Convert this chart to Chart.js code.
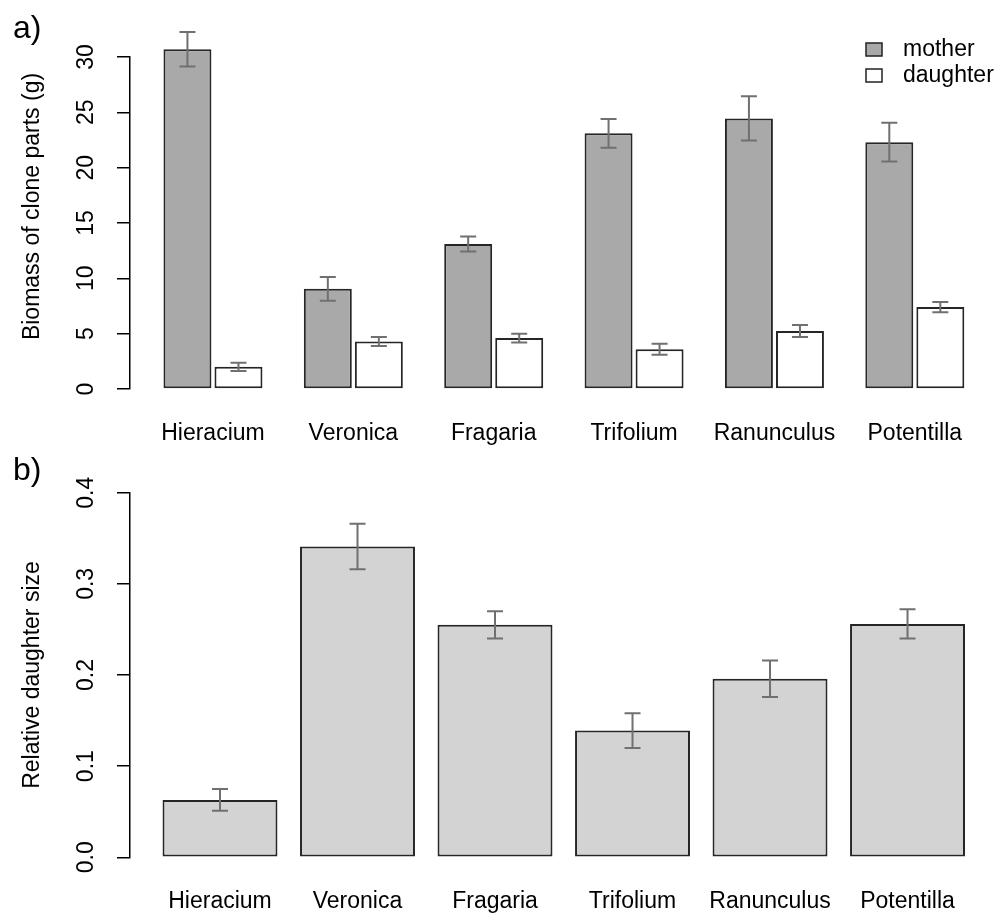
<!DOCTYPE html>
<html>
<head>
<meta charset="utf-8">
<script src="https://cdn.jsdelivr.net/npm/chart.js@4.4.1/dist/chart.umd.min.js"></script>
<style>
  body { margin: 0; background: #fff; }
  .panel { position: absolute; left: 0; }
</style>
</head>
<body>
<div class="panel" style="top:0"><canvas id="biomass" width="995" height="455"></canvas></div>
<div class="panel" style="top:455px"><canvas id="relative" width="995" height="460"></canvas></div>
<script>
const species = ['Hieracium', 'Veronica', 'Fragaria', 'Trifolium', 'Ranunculus', 'Potentilla'];

// panel a: biomass (g), mean and standard error
const motherMean = [30.7, 9.05, 13.1, 23.1, 24.45, 22.3];
const motherSE = [1.55, 1.08, 0.67, 1.3, 2.0, 1.75];
const daughterMean = [2.0, 4.3, 4.6, 3.6, 5.25, 7.4];
const daughterSE = [0.38, 0.41, 0.4, 0.5, 0.54, 0.47];

// panel b: relative daughter size
const relMean = [0.063, 0.341, 0.255, 0.139, 0.196, 0.256];
const relSE = [0.012, 0.025, 0.015, 0.019, 0.02, 0.016];

const FONT = '"Liberation Sans", Arial, sans-serif';

const points = vals => vals.map((v, i) => ({ x: i, y: v }));

// R style y axis labels, axis title and panel letter
const rAxis = {
  id: 'rAxis',
  afterDraw(chart, args, opts) {
    const ctx = chart.ctx;
    const y = chart.scales.y;
    ctx.save();
    ctx.fillStyle = '#000';
    ctx.font = '23px ' + FONT;
    ctx.textAlign = 'center';
    ctx.textBaseline = 'middle';
    y.ticks.forEach(t => {
      ctx.save();
      ctx.translate(opts.tickX, y.getPixelForValue(t.value));
      ctx.rotate(-Math.PI / 2);
      ctx.fillText(t.value.toFixed(opts.decimals), 0, 0);
      ctx.restore();
    });
    ctx.save();
    ctx.translate(opts.titleX, opts.titleY);
    ctx.rotate(-Math.PI / 2);
    ctx.fillText(opts.title, 0, 0);
    ctx.restore();
    ctx.font = '32px ' + FONT;
    ctx.textAlign = 'left';
    ctx.textBaseline = 'alphabetic';
    ctx.fillText(opts.letter, 13, opts.letterY);
    ctx.restore();
  }
};

const errBars = {
  id: 'errBars',
  afterDatasetsDraw(chart) {
    const ctx = chart.ctx;
    const y = chart.scales.y;
    ctx.save();
    ctx.strokeStyle = '#707070';
    ctx.lineWidth = 2;
    chart.data.datasets.forEach((ds, di) => {
      chart.getDatasetMeta(di).data.forEach((bar, i) => {
        const v = ds.data[i].y, e = ds.se[i];
        const top = y.getPixelForValue(v + e);
        const bot = y.getPixelForValue(v - e);
        ctx.beginPath();
        ctx.moveTo(bar.x, top); ctx.lineTo(bar.x, bot);
        ctx.moveTo(bar.x - 8, top); ctx.lineTo(bar.x + 8, top);
        ctx.moveTo(bar.x - 8, bot); ctx.lineTo(bar.x + 8, bot);
        ctx.stroke();
      });
    });
    ctx.restore();
  }
};

const boxLegend = {
  id: 'boxLegend',
  afterDraw(chart) {
    const ctx = chart.ctx;
    ctx.save();
    ctx.font = '23px ' + FONT;
    ctx.textBaseline = 'middle';
    ctx.lineWidth = 1.5;
    ctx.strokeStyle = '#222';
    chart.data.datasets.forEach((ds, i) => {
      const top = 43 + i * 26;
      ctx.fillStyle = ds.backgroundColor;
      ctx.fillRect(866, top, 16, 13);
      ctx.strokeRect(866, top, 16, 13);
      ctx.fillStyle = '#000';
      ctx.fillText(ds.label, 903, top + 6.5);
    });
    ctx.restore();
  }
};

function xAxis(min, max, height) {
  return {
    type: 'linear',
    min: min,
    max: max,
    offset: false,
    afterBuildTicks: s => { s.ticks = species.map((c, i) => ({ value: i })); },
    afterFit: s => {
      s.height = height;
      s.paddingLeft = 0;
      s.paddingRight = 0;
    },
    grid: { display: false, drawTicks: false, offset: false },
    border: { display: false },
    ticks: {
      callback: v => species[v],
      autoSkip: false,
      maxRotation: 0,
      padding: 31,
      color: '#000',
      font: { family: FONT, size: 23 }
    }
  };
}

function yAxis(max, step) {
  return {
    min: 0,
    max: max,
    afterFit: s => { s.width = 130; },
    ticks: { stepSize: step, display: false },
    grid: { drawOnChartArea: false, drawTicks: true, tickLength: 13, color: '#000', lineWidth: 1.5 },
    border: { display: true, color: '#000', width: 1.5 }
  };
}

new Chart(document.getElementById('biomass'), {
  type: 'bar',
  data: {
    datasets: [
      { label: 'mother', data: points(motherMean), se: motherSE, backgroundColor: '#a9a9a9' },
      { label: 'daughter', data: points(daughterMean), se: daughterSE, backgroundColor: '#ffffff' }
    ]
  },
  options: {
    responsive: false,
    animation: false,
    layout: { padding: { top: 57, right: 10, left: 0, bottom: 0 } },
    datasets: {
      bar: {
        borderColor: '#262626', borderWidth: 2, borderSkipped: false,
        categoryPercentage: 0.727, barPercentage: 0.94, clip: false
      }
    },
    scales: { x: xAxis(-0.591, 5.5, 66), y: yAxis(30, 5) },
    plugins: {
      legend: { display: false },
      tooltip: { enabled: false },
      rAxis: { tickX: 86.5, decimals: 0, title: 'Biomass of clone parts (g)', titleX: 33, titleY: 206.5, letter: 'a)', letterY: 37.5 }
    }
  },
  plugins: [errBars, rAxis, boxLegend]
});

new Chart(document.getElementById('relative'), {
  type: 'bar',
  data: {
    datasets: [
      { label: 'relative', data: points(relMean), se: relSE, backgroundColor: '#d3d3d3' }
    ]
  },
  options: {
    responsive: false,
    animation: false,
    layout: { padding: { top: 37.7, right: 19, left: 0, bottom: 0 } },
    datasets: {
      bar: {
        borderColor: '#262626', borderWidth: 2, borderSkipped: false,
        categoryPercentage: 0.836, barPercentage: 1, clip: false
      }
    },
    scales: { x: xAxis(-0.6545, 5.498, 57.7), y: yAxis(0.4, 0.1) },
    plugins: {
      legend: { display: false },
      tooltip: { enabled: false },
      rAxis: { tickX: 86.5, decimals: 1, title: 'Relative daughter size', titleX: 33, titleY: 220, letter: 'b)', letterY: 24.5 }
    }
  },
  plugins: [errBars, rAxis]
});
</script>
</body>
</html>
